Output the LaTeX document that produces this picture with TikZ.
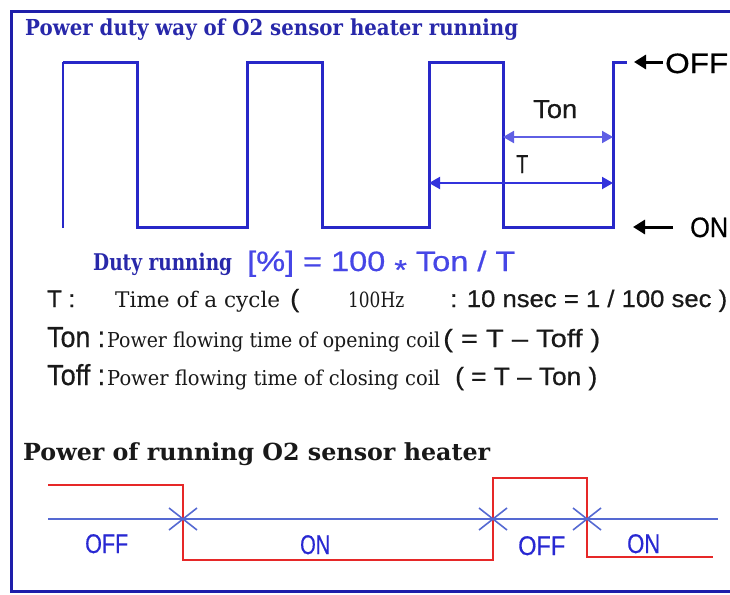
\documentclass[tikz,border=0pt]{standalone}
\usepackage{fontspec}
\usepackage{graphicx}
\setmainfont{DejaVu Serif}
\setsansfont{Liberation Sans}[FakeBold=0.6]
\usetikzlibrary{arrows.meta}
\newcommand{\hfit}[2]{\resizebox{#1pt}{\height}{#2}}
\newcommand{\fs}[1]{\fontsize{#1}{#1}\selectfont}
\definecolor{waveblue}{RGB}{40,40,200}
\definecolor{frameblue}{RGB}{30,30,170}
\definecolor{titleblue}{RGB}{40,40,170}
\definecolor{tblue}{RGB}{50,50,220}
\definecolor{tonblue}{RGB}{95,95,228}
\definecolor{lineblue}{RGB}{85,105,210}
\definecolor{labblue}{RGB}{40,40,210}
\definecolor{fblue}{RGB}{70,70,230}
\definecolor{pred}{RGB}{230,40,40}
\definecolor{txtblack}{RGB}{25,25,25}
\begin{document}
\begin{tikzpicture}[x=1pt,y=-1pt,
  txt/.style={inner sep=0pt, anchor=base west},
  wave/.style={waveblue, line width=3pt, line join=miter},
  dimarrow/.style={line width=2pt, {Triangle[length=11pt,width=12pt]}-{Triangle[length=11pt,width=12pt]}},
  levelarrow/.style={black, line width=3pt, -{Triangle[length=12pt,width=14pt]}},
  crossmark/.style={lineblue, line width=1.6pt},
  redline/.style={pred, line width=2.6pt, line join=miter}]
\useasboundingbox (0,0) rectangle (730,594);
% frame
\draw[frameblue, line width=3pt] (11.5,11.5) rectangle (745,591.5);
% title
\node[txt, text=titleblue] (title) at (25,36) {\hfit{493}{\fs{22}\bfseries Power duty way of O2 sensor heater running}};
% square wave
\coordinate (w0) at (63,228);
\coordinate (w1) at (63,62);
\draw[waveblue, line width=2pt] (w0) -- (w1);
\draw[wave] (63,62) -- (137,62) -- (137,227) -- (247,227) -- (247,62) -- (322,62) -- (322,227)
  -- (429,227) -- (429,62) -- (503,62) -- (503,227) -- (613,227) -- (613,62) -- (627,62);
% dimension arrows
\coordinate (tonL) at (503,137);
\coordinate (tonR) at (613,137);
\coordinate (tL) at (429,183);
\coordinate (tR) at (613,183);
\draw[dimarrow, tonblue] (tonL) -- (tonR);
\draw[dimarrow, tblue] (tL) -- (tR);
\node[txt, text=txtblack] (tonlab) at (533,118) {\hfit{44}{\sffamily\fs{26}Ton}};
\node[txt, text=txtblack] (tlab) at (516,173) {\hfit{12}{\sffamily\fs{26}T}};
% level arrows
\node[txt, text=black] (off) at (665,73) {\hfit{63}{\sffamily\fs{28}OFF}};
\node[txt, text=black] (on) at (690,237) {\hfit{38}{\sffamily\fs{28}ON}};
\coordinate (offtail) at (663,62);
\coordinate (offtip) at (634,62);
\coordinate (ontail) at (673,227);
\coordinate (ontip) at (633,227);
\draw[levelarrow] (offtail) -- (offtip);
\draw[levelarrow] (ontail) -- (ontip);
% duty formula
\node[txt, text=titleblue] (duty) at (93,270) {\hfit{139}{\fs{23}\bfseries Duty running}};
\node[txt, text=fblue] (formula) at (247,271) {\hfit{268}{\sffamily\fs{28}[\%] = 100 \raisebox{-0.3em}{*} Ton / T}};
% definitions
\node[txt, text=txtblack] (d1a) at (47,307) {\hfit{28}{\sffamily\fs{24}T :}};
\node[txt, text=txtblack] (d1b) at (115,307) {\hfit{165}{\fs{21.5}Time of a cycle}};
\node[txt, text=txtblack] (d1c) at (290,307) {\hfit{9}{\sffamily\fs{25}(}};
\node[txt, text=txtblack] (d1d) at (348,307) {\hfit{56}{\fs{21}100Hz}};
\node[txt, text=txtblack] (d1e) at (450,307) {\hfit{277}{\sffamily\fs{24}: 10 nsec = 1 / 100 sec )}};
\node[txt, text=txtblack] (d2a) at (47,347) {\hfit{58}{\sffamily\fs{29}Ton :}};
\node[txt, text=txtblack] (d2b) at (107,347) {\hfit{333}{\fs{20.5}Power flowing time of opening coil}};
\node[txt, text=txtblack] (d2c) at (443,347) {\hfit{157}{\sffamily\fs{25}( = T – Toff )}};
\node[txt, text=txtblack] (d3a) at (47,385) {\hfit{58}{\sffamily\fs{29}Toff :}};
\node[txt, text=txtblack] (d3b) at (107,385) {\hfit{333}{\fs{20.5}Power flowing time of closing coil}};
\node[txt, text=txtblack] (d3c) at (455,385) {\hfit{142}{\sffamily\fs{25}( = T – Ton )}};
% lower section
\node[txt, text=txtblack] (power) at (23,460) {\hfit{467}{\fs{23.5}\bfseries Power of running O2 sensor heater}};
\coordinate (bl0) at (48,519);
\coordinate (bl1) at (718,519);
\draw[lineblue, line width=1.8pt] (bl0) -- (bl1);
\draw[redline] (48,485) -- (183,485) -- (183,560) -- (493,560) -- (493,478) -- (587,478) -- (587,557) -- (713,557);
\foreach \cx in {183,493,587}{
  \draw[crossmark] (\cx-14,508) -- (\cx+14,530);
  \draw[crossmark] (\cx-14,530) -- (\cx+14,508);
}
\node[txt, text=labblue] (boff1) at (85,553) {\hfit{43}{\sffamily\fs{27}OFF}};
\node[txt, text=labblue] (bon1) at (300,554) {\hfit{30}{\sffamily\fs{27}ON}};
\node[txt, text=labblue] (boff2) at (518,555) {\hfit{47}{\sffamily\fs{27}OFF}};
\node[txt, text=labblue] (bon2) at (627,553) {\hfit{33}{\sffamily\fs{27}ON}};
\end{tikzpicture}
\end{document}
